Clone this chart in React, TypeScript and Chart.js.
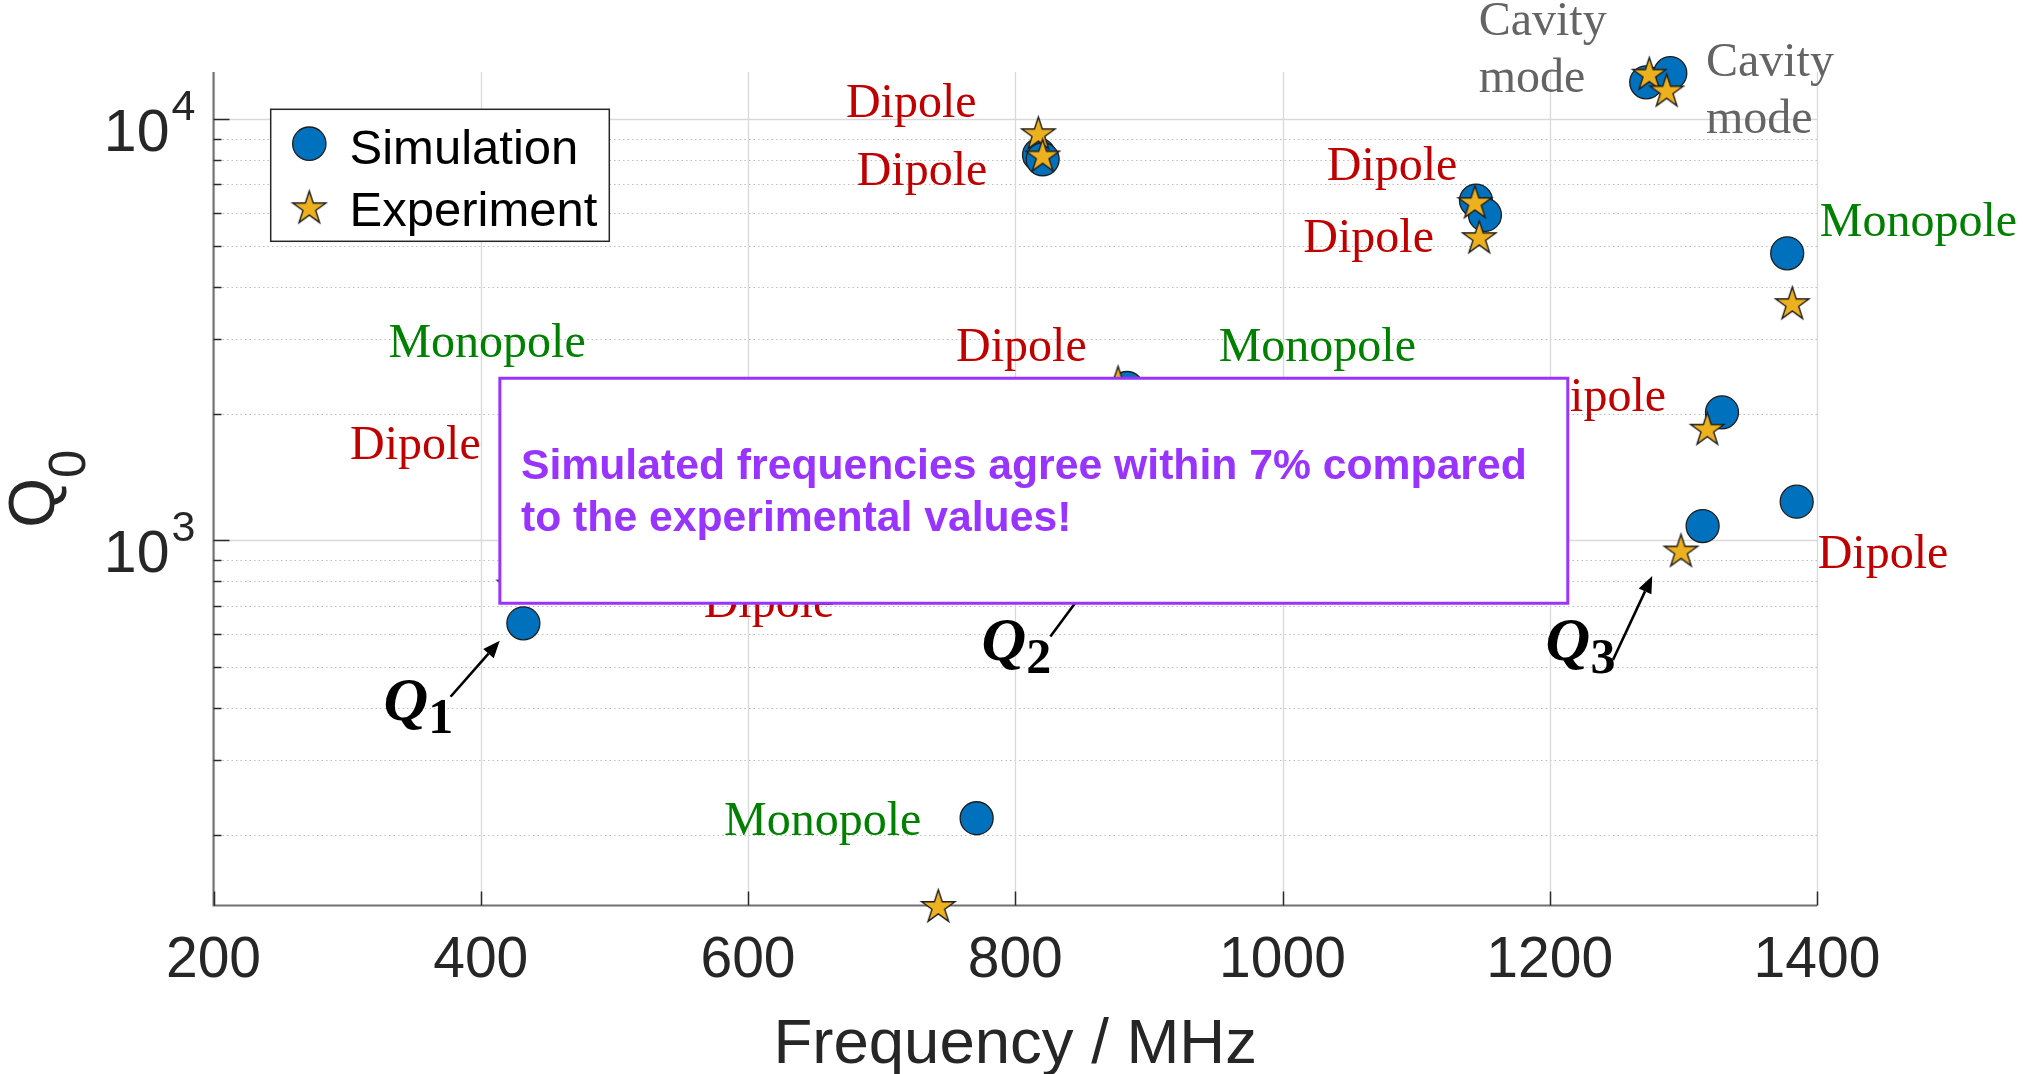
import React, { useEffect, useRef } from 'react';
import { Chart, registerables } from 'chart.js';

Chart.register(...registerables);

// ---- data -------------------------------------------------------------
// Simulated eigenmodes: frequency (MHz) and unloaded quality factor
const simFreqMHz = [431.9, 771.1, 817.8, 820.5, 883.6, 1144.8, 1151.5, 1272.2, 1290.2, 1377.7, 1328.9, 1314.4, 1384.8];
const simQ0 = [635, 218.7, 8227, 8035, 2300, 6409, 5925, 12240, 12865, 4805, 2014, 1081, 1235];

// Measured modes
const expFreqMHz = [424.9, 742.4, 817.3, 820.5, 876.9, 1144.0, 1147.2, 1274.5, 1287.5, 1381.5, 1317.9, 1298.2];
const expQ0 = [787, 135.7, 9290, 8225, 2377, 6374, 5262, 12865, 11740, 3668, 1846, 948];

// Axis ranges and ticks
const freqRange = [200, 1400];
const qRange = [135.7, 12950];
const freqTicks = [200, 400, 600, 800, 1000, 1200, 1400];
const qMajorTicks = [1000, 10000];
const qMinorTicks = [200, 300, 400, 500, 600, 700, 800, 900, 2000, 3000, 4000, 5000, 6000, 7000, 8000, 9000];

// ---- annotations (anchored in data coordinates) -------------------------
type Kind = 'dipole' | 'monopole' | 'cavity';
const modeLabels: { text: string; kind: Kind; f: number; q: number }[] = [
  { text: 'Dipole', kind: 'dipole', f: 673.3, q: 10127 },
  { text: 'Dipole', kind: 'dipole', f: 681.3, q: 6982 },
  { text: 'Dipole', kind: 'dipole', f: 1033.1, q: 7175 },
  { text: 'Dipole', kind: 'dipole', f: 1015.6, q: 4848 },
  { text: 'Dipole', kind: 'dipole', f: 755.7, q: 2670 },
  { text: 'Monopole', kind: 'monopole', f: 952.2, q: 2670 },
  { text: 'Monopole', kind: 'monopole', f: 330.9, q: 2730 },
  { text: 'Dipole', kind: 'dipole', f: 302.2, q: 1560 },
  { text: 'Dipole', kind: 'dipole', f: 1400.5, q: 859 },
  { text: 'Monopole', kind: 'monopole', f: 1402.1, q: 5274 },
  { text: 'Dipole', kind: 'dipole', f: 1189.3, q: 2028 },
  { text: 'Cavity\nmode', kind: 'cavity', f: 1146.8, q: 15855 },
  { text: 'Cavity\nmode', kind: 'cavity', f: 1316.9, q: 12675 },
  { text: 'Dipole', kind: 'dipole', f: 566.8, q: 655.6 },
  { text: 'Monopole', kind: 'monopole', f: 582.0, q: 199.5 },
];

const qMarkers: { sub: string; f: number; q: number }[] = [
  { sub: '1', f: 327.2, q: 373.5 },
  { sub: '2', f: 774.7, q: 519.3 },
  { sub: '3', f: 1196.9, q: 519.3 },
];

const arrows: { from: [number, number]; to: [number, number] }[] = [
  { from: [377.4, 425], to: [414.2, 577] },
  { from: [826.3, 590.7], to: [863.1, 850] },
  { from: [1247.3, 519.6], to: [1276.7, 822.7] },
];

const noteBox = { f1: 414.3, f2: 1213.5, qTop: 2426, qBottom: 708.7 };
const noteLines = ['Simulated frequencies agree within 7% compared', 'to the experimental values!'];
const noteLineAnchor = { f: 430.1, q: [1396, 1054] };

// ---- styles -----------------------------------------------------------
const W = 2023;
const H = 1074;
const SANS = '"Liberation Sans", Arial, Helvetica, sans-serif';
const SERIF = '"Liberation Serif", "Times New Roman", serif';
const TEXT_DARK = '#262626';
const SIM_FILL = '#0072BD';
const EXP_FILL = '#EDB120';
const MARKER_EDGE = '#1e1e1e';
const NOTE_PURPLE = '#9933FF';
const MODE_COLORS: Record<Kind, string> = { dipole: '#C00000', monopole: '#008000', cavity: '#646464' };

function makeStar(R: number): HTMLCanvasElement {
  const size = Math.ceil(2 * R + 6);
  const c = document.createElement('canvas');
  c.width = size;
  c.height = size;
  const g = c.getContext('2d')!;
  const cx = size / 2;
  // shift so the star's bounding box is centred on the point
  const cy = size / 2 + 0.0955 * R;
  const r = R * 0.382;
  g.beginPath();
  for (let i = 0; i < 10; i++) {
    const rad = i % 2 === 0 ? R : r;
    const a = -Math.PI / 2 + (i * Math.PI) / 5;
    const px = cx + rad * Math.cos(a);
    const py = cy + rad * Math.sin(a);
    if (i === 0) g.moveTo(px, py);
    else g.lineTo(px, py);
  }
  g.closePath();
  g.fillStyle = EXP_FILL;
  g.fill();
  g.lineWidth = 1.4;
  g.lineJoin = 'miter';
  g.strokeStyle = MARKER_EDGE;
  g.stroke();
  return c;
}

function drawArrow(ctx: CanvasRenderingContext2D, x1: number, y1: number, x2: number, y2: number) {
  const ang = Math.atan2(y2 - y1, x2 - x1);
  const len = 17;
  const half = 7;
  const bx = x2 - len * Math.cos(ang);
  const by = y2 - len * Math.sin(ang);
  ctx.beginPath();
  ctx.moveTo(x1, y1);
  ctx.lineTo(bx, by);
  ctx.strokeStyle = '#000';
  ctx.lineWidth = 2.6;
  ctx.stroke();
  ctx.beginPath();
  ctx.moveTo(x2, y2);
  ctx.lineTo(bx + half * Math.sin(ang), by - half * Math.cos(ang));
  ctx.lineTo(bx - half * Math.sin(ang), by + half * Math.cos(ang));
  ctx.closePath();
  ctx.fillStyle = '#000';
  ctx.fill();
}

export default function App() {
  const canvasRef = useRef<HTMLCanvasElement | null>(null);

  useEffect(() => {
    document.body.style.margin = '0';
    const canvas = canvasRef.current;
    if (!canvas) return;
    const star = makeStar(17.5);

    // grid, axis lines and inward tick marks
    const axesPlugin = {
      id: 'axesPlugin',
      beforeDatasetsDraw(chart: any) {
        const { ctx, chartArea: a } = chart;
        const xs = chart.scales.x;
        const ys = chart.scales.y;
        ctx.save();
        // minor y grid, dotted
        ctx.strokeStyle = '#bdbdbd';
        ctx.lineWidth = 1;
        ctx.setLineDash([1.5, 3]);
        for (const v of qMinorTicks) {
          const py = Math.round(ys.getPixelForValue(v)) + 0.5;
          ctx.beginPath();
          ctx.moveTo(a.left, py);
          ctx.lineTo(a.right, py);
          ctx.stroke();
        }
        ctx.setLineDash([]);
        // major grid
        ctx.strokeStyle = '#d9d9d9';
        ctx.lineWidth = 1.3;
        for (const v of qMajorTicks) {
          const py = Math.round(ys.getPixelForValue(v)) + 0.5;
          ctx.beginPath();
          ctx.moveTo(a.left, py);
          ctx.lineTo(a.right, py);
          ctx.stroke();
        }
        for (const v of freqTicks) {
          const px = Math.round(xs.getPixelForValue(v)) + 0.5;
          ctx.beginPath();
          ctx.moveTo(px, a.top);
          ctx.lineTo(px, a.bottom);
          ctx.stroke();
        }
        // axis lines
        ctx.strokeStyle = '#707070';
        ctx.lineWidth = 2;
        ctx.beginPath();
        ctx.moveTo(a.left, a.top);
        ctx.lineTo(a.left, a.bottom);
        ctx.lineTo(a.right, a.bottom);
        ctx.stroke();
        // tick marks
        ctx.strokeStyle = '#2a2a2a';
        ctx.lineWidth = 1.5;
        for (const v of qMajorTicks) {
          const py = Math.round(ys.getPixelForValue(v)) + 0.5;
          ctx.beginPath();
          ctx.moveTo(a.left, py);
          ctx.lineTo(a.left + 16, py);
          ctx.stroke();
        }
        for (const v of qMinorTicks) {
          const py = Math.round(ys.getPixelForValue(v)) + 0.5;
          ctx.beginPath();
          ctx.moveTo(a.left, py);
          ctx.lineTo(a.left + 8, py);
          ctx.stroke();
        }
        for (const v of freqTicks) {
          const px = Math.round(xs.getPixelForValue(v)) + 0.5;
          ctx.beginPath();
          ctx.moveTo(px, a.bottom);
          ctx.lineTo(px, a.bottom - 14);
          ctx.stroke();
        }
        ctx.restore();
      },
    };

    // labels, arrows, note box, legend and axis titles
    const overlayPlugin = {
      id: 'overlayPlugin',
      afterDatasetsDraw(chart: any) {
        const { ctx, chartArea: a } = chart;
        const xs = chart.scales.x;
        const ys = chart.scales.y;
        const X = (f: number) => xs.getPixelForValue(f);
        const Y = (q: number) => ys.getPixelForValue(q);
        ctx.save();

        // mode labels
        ctx.font = `48px ${SERIF}`;
        ctx.textAlign = 'left';
        ctx.textBaseline = 'alphabetic';
        for (const l of modeLabels) {
          ctx.fillStyle = MODE_COLORS[l.kind];
          const lines = l.text.split('\n');
          lines.forEach((t, i) => ctx.fillText(t, X(l.f), Y(l.q) + i * 57));
        }

        // arrows
        for (const ar of arrows) {
          drawArrow(ctx, X(ar.from[0]), Y(ar.from[1]), X(ar.to[0]), Y(ar.to[1]));
        }

        // note box
        const bx1 = X(noteBox.f1);
        const bx2 = X(noteBox.f2);
        const by1 = Y(noteBox.qTop);
        const by2 = Y(noteBox.qBottom);
        ctx.fillStyle = '#ffffff';
        ctx.fillRect(bx1, by1, bx2 - bx1, by2 - by1);
        ctx.strokeStyle = NOTE_PURPLE;
        ctx.lineWidth = 3;
        ctx.strokeRect(bx1, by1, bx2 - bx1, by2 - by1);
        ctx.fillStyle = NOTE_PURPLE;
        ctx.font = `bold 42.7px ${SANS}`;
        noteLines.forEach((t, i) => ctx.fillText(t, X(noteLineAnchor.f), Y(noteLineAnchor.q[i])));

        // Q markers
        for (const m of qMarkers) {
          const x0 = X(m.f);
          const y0 = Y(m.q);
          ctx.fillStyle = '#000';
          ctx.font = `italic bold 62px ${SERIF}`;
          ctx.fillText('Q', x0, y0);
          const w = ctx.measureText('Q').width;
          ctx.font = `bold 50px ${SERIF}`;
          ctx.fillText(m.sub, x0 + w, y0 + 13);
        }

        // legend
        const lx = a.left + 57.2;
        const ly = a.top + 37.3;
        ctx.fillStyle = '#ffffff';
        ctx.fillRect(lx, ly, 338.6, 132);
        ctx.strokeStyle = '#262626';
        ctx.lineWidth = 1.5;
        ctx.strokeRect(lx, ly, 338.6, 132);
        ctx.beginPath();
        ctx.arc(lx + 38.6, ly + 34.4, 16.7, 0, Math.PI * 2);
        ctx.fillStyle = SIM_FILL;
        ctx.fill();
        ctx.strokeStyle = MARKER_EDGE;
        ctx.lineWidth = 1.3;
        ctx.stroke();
        ctx.drawImage(star, lx + 38.6 - star.width / 2, ly + 97.4 - star.height / 2);
        ctx.fillStyle = '#000';
        ctx.font = `49px ${SANS}`;
        const names = chart.data.datasets.map((d: any) => d.label);
        ctx.fillText(names[0], lx + 78.8, ly + 54.7);
        ctx.fillText(names[1], lx + 78.8, ly + 116.2);

        // y tick labels: 10^n
        ctx.fillStyle = TEXT_DARK;
        for (const v of qMajorTicks) {
          const py = Y(v);
          const exp = String(Math.round(Math.log10(v)));
          ctx.font = `59px ${SANS}`;
          ctx.textAlign = 'right';
          ctx.fillText('10', a.left - 44, py + 31.4);
          ctx.font = `43px ${SANS}`;
          ctx.textAlign = 'left';
          ctx.fillText(exp, a.left - 42, py + 0.5);
        }

        // y axis title Q_0 (rotated)
        ctx.textAlign = 'left';
        ctx.font = `64px ${SANS}`;
        const wq = ctx.measureText('Q').width;
        ctx.font = `51px ${SANS}`;
        const w0 = ctx.measureText('0').width;
        const cy = (a.top + a.bottom) / 2;
        ctx.save();
        ctx.translate(54, cy + (wq + w0) / 2);
        ctx.rotate(-Math.PI / 2);
        ctx.font = `64px ${SANS}`;
        ctx.fillText('Q', 0, 0);
        ctx.font = `51px ${SANS}`;
        ctx.fillText('0', wq, 31);
        ctx.restore();

        // x axis title
        ctx.font = `63.5px ${SANS}`;
        ctx.textAlign = 'center';
        ctx.fillText('Frequency / MHz', (a.left + a.right) / 2, 1063);

        ctx.restore();
      },
    };

    const chart = new Chart(canvas, {
      type: 'scatter',
      data: {
        datasets: [
          {
            label: 'Simulation',
            data: simFreqMHz.map((f, i) => ({ x: f, y: simQ0[i] })),
            pointStyle: 'circle',
            pointRadius: 16.5,
            pointBackgroundColor: SIM_FILL,
            pointBorderColor: MARKER_EDGE,
            pointBorderWidth: 1.3,
            clip: false,
            order: 1,
          },
          {
            label: 'Experiment',
            data: expFreqMHz.map((f, i) => ({ x: f, y: expQ0[i] })),
            pointStyle: star,
            pointRadius: 18,
            clip: false,
            order: 0,
          },
        ],
      } as any,
      options: {
        animation: false,
        responsive: false,
        devicePixelRatio: 1,
        events: [],
        layout: { padding: { left: 0, top: 72, right: 206, bottom: 0 } },
        plugins: { legend: { display: false }, tooltip: { enabled: false } },
        scales: {
          x: {
            type: 'linear',
            position: 'bottom',
            min: freqRange[0],
            max: freqRange[1],
            afterBuildTicks: (s: any) => {
              s.ticks = freqTicks.map((v) => ({ value: v }));
            },
            afterFit: (s: any) => {
              s.height = H - 905.5;
            },
            grid: { display: false, drawTicks: false },
            border: { display: false },
            ticks: {
              font: { family: SANS, size: 57 },
              color: TEXT_DARK,
              padding: 22,
              maxRotation: 0,
              autoSkip: false,
              callback: (v: any) => String(v),
            },
          },
          y: {
            type: 'logarithmic',
            min: qRange[0],
            max: qRange[1],
            afterFit: (s: any) => {
              s.width = 213.5;
            },
            grid: { display: false, drawTicks: false },
            border: { display: false },
            ticks: { display: false },
          },
        },
      } as any,
      plugins: [axesPlugin, overlayPlugin],
    });

    return () => chart.destroy();
  }, []);

  return (
    <div style={{ width: W, height: H, background: '#fff' }}>
      <canvas ref={canvasRef} width={W} height={H} style={{ display: 'block', width: W, height: H }} />
    </div>
  );
}
